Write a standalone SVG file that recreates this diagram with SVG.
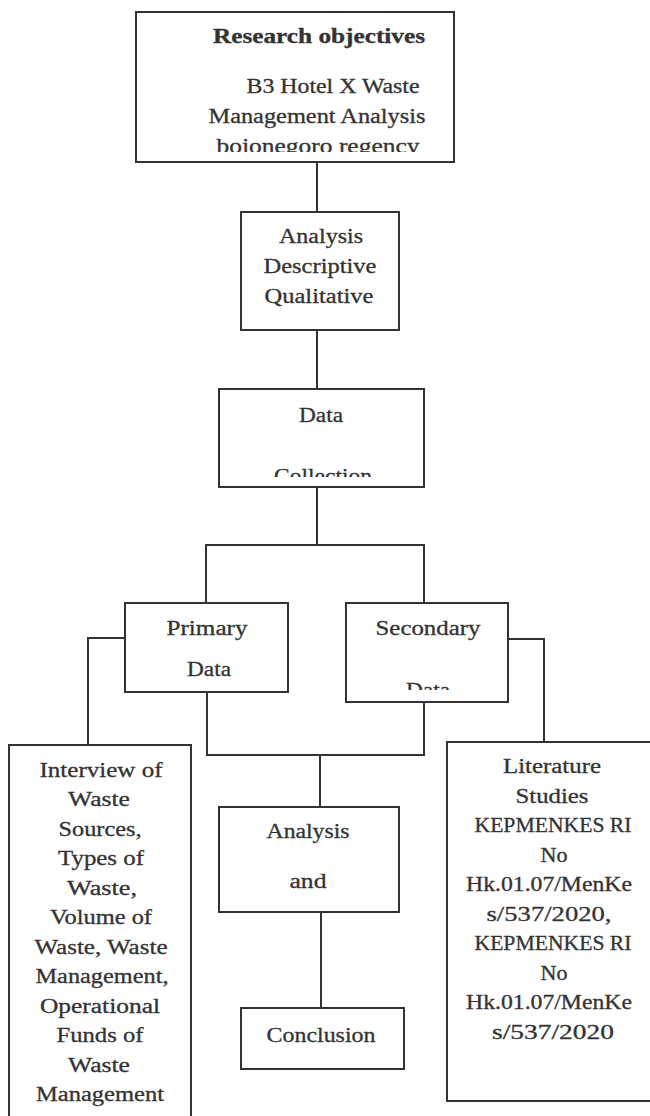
<svg xmlns="http://www.w3.org/2000/svg" width="650" height="1116" viewBox="0 0 650 1116">
<style>
.box{fill:#fff;stroke:#333;stroke-width:2}
.ln{fill:none;stroke:#333;stroke-width:2}
text{font-family:"Liberation Serif","Times New Roman",serif;font-size:20.5px;fill:#333;stroke:#333;stroke-width:0.3;text-anchor:middle}
.b{font-weight:bold;font-size:20px}
</style>
<defs>
<clipPath id="c1"><rect x="130" y="0" width="330" height="152"/></clipPath>
<clipPath id="c2"><rect x="210" y="380" width="220" height="97"/></clipPath>
<clipPath id="c3"><rect x="340" y="600" width="180" height="90"/></clipPath>
</defs>
<rect width="650" height="1116" fill="#fff"/>
<g id="connectors">
<path class="ln" d="M317 162V212"/>
<path class="ln" d="M317 330V389"/>
<path class="ln" d="M317 487V545M206 603V545H424V603"/>
<path class="ln" d="M125 638H88V745"/>
<path class="ln" d="M508 639H544V742"/>
<path class="ln" d="M207 692V755H424V702M320 755V807"/>
<path class="ln" d="M321 912V1008"/>
</g>
<g id="objectives">
<rect class="box" x="136" y="12" width="318" height="150"/>
<g clip-path="url(#c1)">
<text class="b" x="319" y="43" textLength="212" lengthAdjust="spacingAndGlyphs">Research objectives</text>
<text x="333" y="93" textLength="173" lengthAdjust="spacingAndGlyphs">B3 Hotel X Waste</text>
<text x="317" y="123" textLength="217" lengthAdjust="spacingAndGlyphs">Management Analysis</text>
<text x="318" y="153" textLength="203" lengthAdjust="spacingAndGlyphs">bojonegoro regency</text>
</g>
</g>
<g id="descriptive">
<rect class="box" x="241" y="212" width="158" height="118"/>
<text x="321" y="243" textLength="84" lengthAdjust="spacingAndGlyphs">Analysis</text>
<text x="320" y="273" textLength="113" lengthAdjust="spacingAndGlyphs">Descriptive</text>
<text x="319" y="303" textLength="109" lengthAdjust="spacingAndGlyphs">Qualitative</text>
</g>
<g id="collection">
<rect class="box" x="219" y="389" width="205" height="98"/>
<text x="321" y="422" textLength="44" lengthAdjust="spacingAndGlyphs">Data</text>
<g clip-path="url(#c2)"><text x="323" y="483" textLength="98" lengthAdjust="spacingAndGlyphs">Collection</text></g>
</g>
<g id="primary">
<rect class="box" x="125" y="603" width="163" height="89"/>
<text x="207" y="635" textLength="81" lengthAdjust="spacingAndGlyphs">Primary</text>
<text x="209" y="676" textLength="44" lengthAdjust="spacingAndGlyphs">Data</text>
</g>
<g id="secondary">
<rect class="box" x="346" y="603" width="162" height="99"/>
<text x="428" y="635" textLength="105" lengthAdjust="spacingAndGlyphs">Secondary</text>
<g clip-path="url(#c3)"><text x="428" y="697" textLength="44" lengthAdjust="spacingAndGlyphs">Data</text></g>
</g>
<g id="interview">
<rect class="box" x="9" y="745" width="182" height="380"/>
<text x="101" y="777" textLength="123" lengthAdjust="spacingAndGlyphs">Interview of</text>
<text x="99" y="806" textLength="62" lengthAdjust="spacingAndGlyphs">Waste</text>
<text x="100" y="836" textLength="83" lengthAdjust="spacingAndGlyphs">Sources,</text>
<text x="101" y="865" textLength="86" lengthAdjust="spacingAndGlyphs">Types of</text>
<text x="102" y="895" textLength="70" lengthAdjust="spacingAndGlyphs">Waste,</text>
<text x="101" y="924" textLength="102" lengthAdjust="spacingAndGlyphs">Volume of</text>
<text x="101" y="954" textLength="133" lengthAdjust="spacingAndGlyphs">Waste, Waste</text>
<text x="102" y="983" textLength="133" lengthAdjust="spacingAndGlyphs">Management,</text>
<text x="100" y="1013" textLength="120" lengthAdjust="spacingAndGlyphs">Operational</text>
<text x="100" y="1042" textLength="87" lengthAdjust="spacingAndGlyphs">Funds of</text>
<text x="99" y="1072" textLength="62" lengthAdjust="spacingAndGlyphs">Waste</text>
<text x="100" y="1101" textLength="128" lengthAdjust="spacingAndGlyphs">Management</text>
</g>
<g id="analysis-and">
<rect class="box" x="219" y="807" width="180" height="105"/>
<text x="308" y="838" textLength="83" lengthAdjust="spacingAndGlyphs">Analysis</text>
<text x="308" y="888" textLength="37" lengthAdjust="spacingAndGlyphs">and</text>
</g>
<g id="conclusion">
<rect class="box" x="241" y="1008" width="163" height="61"/>
<text x="321" y="1042" textLength="109" lengthAdjust="spacingAndGlyphs">Conclusion</text>
</g>
<g id="literature">
<rect class="box" x="447" y="742" width="210" height="359"/>
<text x="552" y="773" textLength="98" lengthAdjust="spacingAndGlyphs">Literature</text>
<text x="552" y="803" textLength="73" lengthAdjust="spacingAndGlyphs">Studies</text>
<text x="553" y="832" textLength="157" lengthAdjust="spacingAndGlyphs">KEPMENKES RI</text>
<text x="554" y="862" textLength="27" lengthAdjust="spacingAndGlyphs">No</text>
<text x="549" y="891" textLength="166" lengthAdjust="spacingAndGlyphs">Hk.01.07/MenKe</text>
<text x="549" y="921" textLength="125" lengthAdjust="spacingAndGlyphs">s/537/2020,</text>
<text x="553" y="950" textLength="157" lengthAdjust="spacingAndGlyphs">KEPMENKES RI</text>
<text x="554" y="980" textLength="27" lengthAdjust="spacingAndGlyphs">No</text>
<text x="549" y="1009" textLength="166" lengthAdjust="spacingAndGlyphs">Hk.01.07/MenKe</text>
<text x="553" y="1039" textLength="122" lengthAdjust="spacingAndGlyphs">s/537/2020</text>
</g>
</svg>
